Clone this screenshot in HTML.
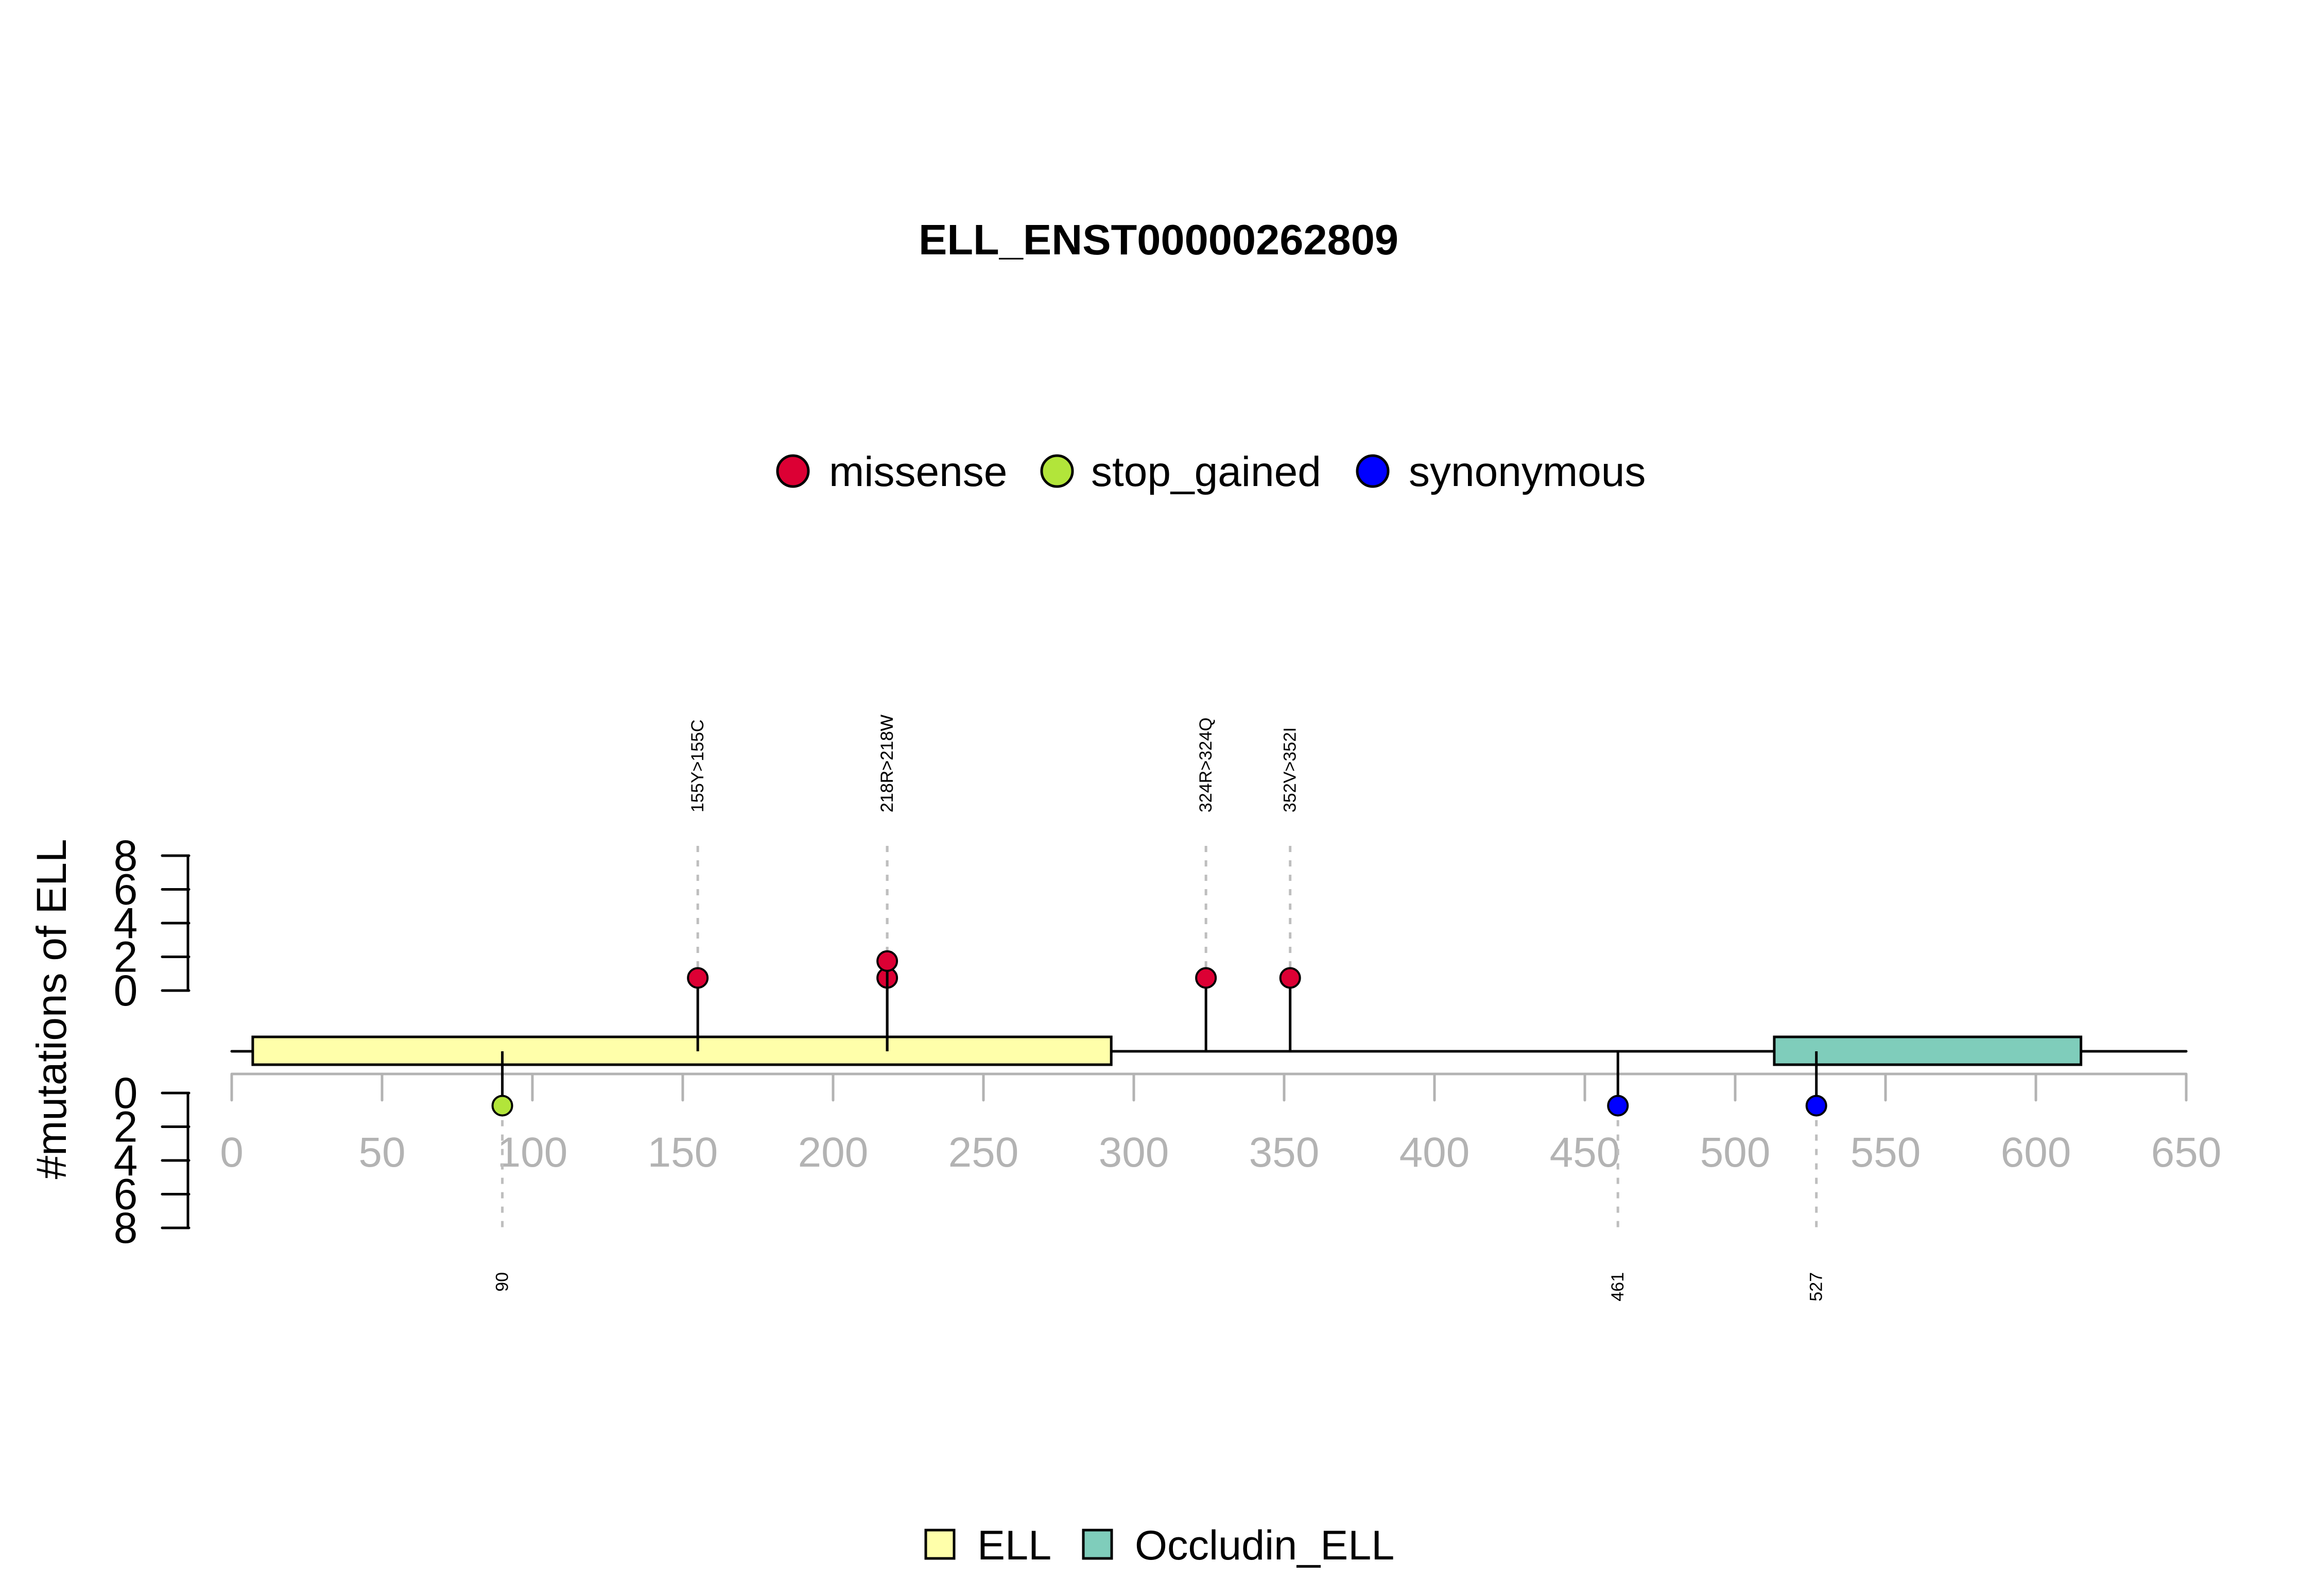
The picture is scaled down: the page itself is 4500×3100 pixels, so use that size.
<!DOCTYPE html>
<html><head><meta charset="utf-8"><style>
html,body{margin:0;padding:0;background:#fff;}
svg{display:block;font-family:"Liberation Sans",Arial,sans-serif;}
</style></head><body>
<svg id="chart" width="4500" height="3100" viewBox="0 0 4500 3100" xmlns="http://www.w3.org/2000/svg">
<rect width="4500" height="3100" fill="#fff"/>
<text x="2250" y="494" text-anchor="middle" font-size="83" font-weight="bold">ELL_ENST00000262809</text>
<g>
  <circle cx="1540" cy="915" r="30" fill="#DC0034" stroke="#000" stroke-width="5"/>
  <text x="1610" y="944" font-size="82">missense</text>
  <circle cx="2053" cy="915" r="30" fill="#B2E53A" stroke="#000" stroke-width="5"/>
  <text x="2119" y="944" font-size="82">stop_gained</text>
  <circle cx="2666" cy="915" r="30" fill="#0000FF" stroke="#000" stroke-width="5"/>
  <text x="2736" y="944" font-size="82">synonymous</text>
</g>
<text transform="translate(128,1960) rotate(-90)" text-anchor="middle" font-size="82">#mutations of ELL</text>
<g id="plot"></g>
<g>
  <rect x="1798" y="2972" width="55" height="55" fill="#FFFFAA" stroke="#000" stroke-width="5"/>
  <text x="1898" y="3029" font-size="81">ELL</text>
  <rect x="2104" y="2972" width="55" height="55" fill="#7FCDBB" stroke="#000" stroke-width="5"/>
  <text x="2204" y="3029" font-size="81">Occludin_ELL</text>
</g>
</svg>
<script>
const xTicks = [0,50,100,150,200,250,300,350,400,450,500,550,600,650];
const yTicks = [0,2,4,6,8];
const topPos = [155,218,218,324,352];
const topCount = [1,1,2,1,1];
const topLabels = ["155Y>155C","218R>218W","218R>218W","324R>324Q","352V>352I"];
const topColors = ["#DC0034","#DC0034","#DC0034","#DC0034","#DC0034"];
const botPos = [90,461,527];
const botCount = [1,1,1];
const botLabels = ["90","461","527"];
const botColors = ["#B2E53A","#0000FF","#0000FF"];
const domainNames = ["ELL","Occludin_ELL"];
const domainStart = [7,513];
const domainEnd = [292.5,615];
const domainColors = ["#FFFFAA","#7FCDBB"];
const proteinLength = 650;

const NS = "http://www.w3.org/2000/svg";
const g = document.getElementById("plot");
const X = v => 450 + (4246 - 450) * v / 650;
const YT = c => 1924 - (1924 - 1662) * c / 8;
const YB = c => 2123 + (2385 - 2123) * c / 8;
const backY = 2042;
function mk(tag, attrs) {
  const e = document.createElementNS(NS, tag);
  for (const k in attrs) e.setAttribute(k, attrs[k]);
  g.appendChild(e);
  return e;
}
[[YT,"top"],[YB,"bottom"]].forEach(([f,n]) => {
  let l = mk("line",{x1:365,x2:365,y1:f(0),y2:f(8),stroke:"#000","stroke-width":5});
  
  
  yTicks.forEach(t => {
    let tk = mk("line",{x1:315,x2:367,y1:f(t),y2:f(t),stroke:"#000","stroke-width":5,"stroke-linecap":"round"});
    
    
    let tl = mk("text",{x:244,y:f(t),"text-anchor":"middle","dominant-baseline":"central","font-size":84});
    tl.textContent = t;
    
    
  });
});
let ax = mk("line",{x1:X(0),x2:X(650),y1:2086,y2:2086,stroke:"#B3B3B3","stroke-width":5});


xTicks.forEach(t => {
  let tk = mk("line",{x1:X(t),x2:X(t),y1:2086,y2:2137,stroke:"#B3B3B3","stroke-width":5,"stroke-linecap":"round"});
  
  
  let tl = mk("text",{x:X(t),y:2266,"text-anchor":"middle","font-size":82,fill:"#B3B3B3"});
  tl.textContent = t;
  
  
});
let bb = mk("line",{x1:X(0),x2:X(proteinLength),y1:backY,y2:backY,stroke:"#000","stroke-width":5,"stroke-linecap":"round"});


domainNames.forEach((n,i) => {
  let r = mk("rect",{x:X(domainStart[i]),y:2014,width:X(domainEnd[i])-X(domainStart[i]),height:54,fill:domainColors[i],stroke:"#000","stroke-width":5});
  
  
});
topPos.forEach((p,i) => {
  const x = X(p), y = YT(topCount[i] - 0.25);
  let d = mk("line",{x1:x,x2:x,y1:1643,y2:y,stroke:"#BEBEBE","stroke-width":5,"stroke-dasharray":"12 16"});
  
  
  let s = mk("line",{x1:x,x2:x,y1:backY,y2:y,stroke:"#000","stroke-width":5});
  
  
  let c = mk("circle",{cx:x,cy:y,r:19,fill:topColors[i],stroke:"#000","stroke-width":4});
  
  
  let t = mk("text",{transform:`translate(${x},1578) rotate(-90)`,"dominant-baseline":"central","font-size":34});
  t.textContent = topLabels[i];
  
  
});
botPos.forEach((p,i) => {
  const x = X(p), y = YB(botCount[i] - 0.25);
  let d = mk("line",{x1:x,x2:x,y1:y,y2:2394,stroke:"#BEBEBE","stroke-width":5,"stroke-dasharray":"12 16"});
  
  
  let s = mk("line",{x1:x,x2:x,y1:backY,y2:y,stroke:"#000","stroke-width":5});
  
  
  let c = mk("circle",{cx:x,cy:y,r:19,fill:botColors[i],stroke:"#000","stroke-width":4});
  
  
  let t = mk("text",{transform:`translate(${x},2471) rotate(-90)`,"text-anchor":"end","dominant-baseline":"central","font-size":34});
  t.textContent = botLabels[i];
  
  
});
</script>
</body></html>
